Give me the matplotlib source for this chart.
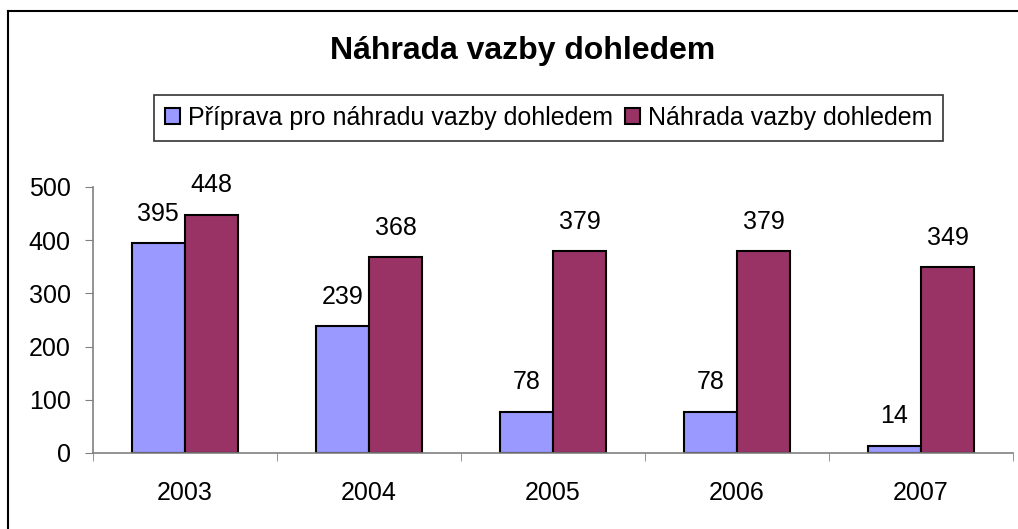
import matplotlib.pyplot as plt
import numpy as np

# data
years = ["2003", "2004", "2005", "2006", "2007"]
priprava = [395, 239, 78, 78, 14]
nahrada = [448, 368, 379, 379, 349]
series_names = ["Příprava pro náhradu vazby dohledem", "Náhrada vazby dohledem"]

plt.rcParams['font.family'] = ['Liberation Sans', 'DejaVu Sans']

W, H = 1018, 529
fig = plt.figure(figsize=(W / 100, H / 100), dpi=100)

# outer frame (only left and top edges are visible in the crop)
fig.add_artist(plt.Line2D([8 / W, 8 / W], [0, 1 - 11 / H], transform=fig.transFigure, color='black', lw=1.5))
fig.add_artist(plt.Line2D([8 / W, 1], [1 - 11 / H, 1 - 11 / H], transform=fig.transFigure, color='black', lw=1.5))

ax = fig.add_axes([93 / W, (H - 453) / H, 920 / W, (453 - 187) / H])

x = np.arange(len(years))
w = 0.29
ax.bar(x - w / 2, priprava, w, color='#9999FF', edgecolor='black', linewidth=1.5, label=series_names[0])
ax.bar(x + w / 2, nahrada, w, color='#993366', edgecolor='black', linewidth=1.5, label=series_names[1])

# value labels, a fixed gap above each bar
gap = 55
for i in range(len(years)):
    ax.text(x[i] - w / 2, priprava[i] + gap, str(priprava[i]), ha='center', va='center', fontsize=18)
    ax.text(x[i] + w / 2, nahrada[i] + gap, str(nahrada[i]), ha='center', va='center', fontsize=18)

ax.set_xlim(-0.5, len(years) - 0.5)
ax.set_ylim(0, 500)
ax.set_yticks([0, 100, 200, 300, 400, 500])
ax.set_xticks(x)
ax.set_xticklabels(years)
ax.set_xticks(np.arange(-0.5, len(years)), minor=True)
ax.tick_params(axis='x', which='major', length=0, pad=20, labelsize=18)
ax.tick_params(axis='x', which='minor', length=6, color='#808080', direction='out')
ax.tick_params(axis='y', length=6, color='#808080', direction='out', pad=10, labelsize=18)

for s in ['top', 'right']:
    ax.spines[s].set_visible(False)
for s in ['left', 'bottom']:
    ax.spines[s].set_color('#808080')
    ax.spines[s].set_linewidth(1.2)

fig.text(523 / W, 1 - 51 / H, "Náhrada vazby dohledem", ha='center', va='center', fontsize=23, fontweight='bold')

leg = fig.legend(loc='upper left', bbox_to_anchor=(154 / W, 1 - 95 / H), ncol=2, fontsize=18,
                 frameon=True, fancybox=False, shadow=False, handlelength=0.6, handleheight=0.6,
                 handletextpad=0.3, columnspacing=0.5, borderpad=0.45, borderaxespad=0)
leg.get_frame().set_edgecolor('black')
leg.get_frame().set_linewidth(1.2)

fig.savefig("out.png", dpi=100)
